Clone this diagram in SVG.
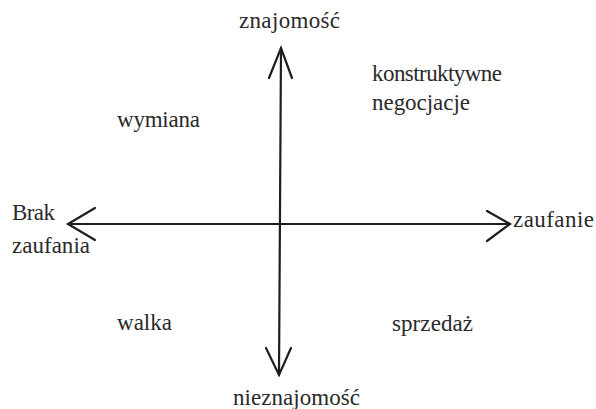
<svg xmlns="http://www.w3.org/2000/svg" width="596" height="409" viewBox="0 0 596 409">
<style>
.ax{fill:none;stroke:#1e1e1e;stroke-width:2.2;stroke-linecap:round;stroke-linejoin:miter}
.lb{font-size:23px;fill:#2a2a2a}
</style>
<rect width="596" height="409" fill="#ffffff"/>
<g id="connectors">
<line class="ax" x1="68" y1="224" x2="510" y2="224"/>
<line class="ax" x1="281" y1="48" x2="279" y2="375"/>
<polyline class="ax" points="95,208 68,224 95,240"/>
<polyline class="ax" points="487,211 510,224 487,241"/>
<polyline class="ax" points="269,78 281,48 292,78"/>
<polyline class="ax" points="266,348 279,375 291,348"/>
</g>
<g id="labels" font-family="Liberation Serif, Times New Roman, serif">
<g id="n-znajomosc"><text class="lb" x="239" y="28" textLength="101">znajomość</text></g>
<g id="n-nieznajomosc"><text class="lb" x="233" y="405" textLength="127">nieznajomość</text></g>
<g id="n-brak"><text class="lb" x="12" y="220" textLength="43">Brak</text><text class="lb" x="12" y="253" textLength="78">zaufania</text></g>
<g id="n-zaufanie"><text class="lb" x="513" y="227" textLength="81">zaufanie</text></g>
<g id="n-konstruktywne"><text class="lb" x="372" y="81" textLength="130">konstruktywne</text><text class="lb" x="372" y="110" textLength="98">negocjacje</text></g>
<g id="n-wymiana"><text class="lb" x="117" y="127" textLength="83">wymiana</text></g>
<g id="n-walka"><text class="lb" x="117" y="330" textLength="55">walka</text></g>
<g id="n-sprzedaz"><text class="lb" x="392" y="331" textLength="81">sprzedaż</text></g>
</g>
</svg>
